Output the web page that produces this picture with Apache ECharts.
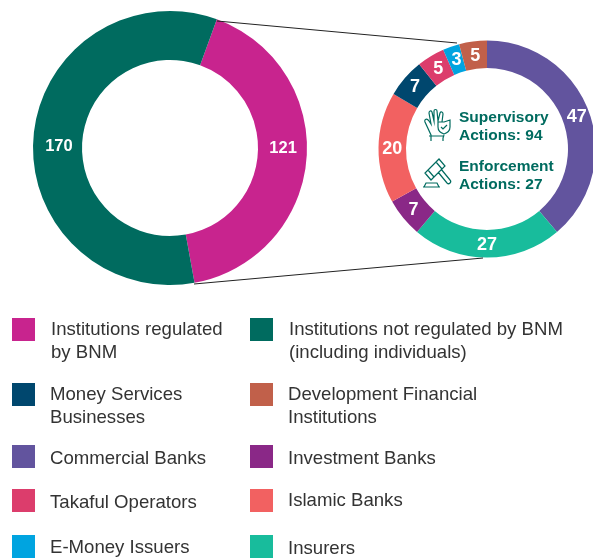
<!DOCTYPE html>
<html><head><meta charset="utf-8">
<style>html,body{margin:0;padding:0;background:#fff}#c{width:593px;height:558px}</style>
<script src="https://cdn.jsdelivr.net/npm/echarts@6/dist/echarts.min.js"></script></head>
<body><div id="c"></div>
<script>
const outerNames = ['Institutions regulated by BNM','Institutions not regulated by BNM (including individuals)'];
const outerValues = [121,170];
const outerColors = ['#C8248E','#006B5F'];
const innerNames = ['Commercial Banks','Insurers','Investment Banks','Islamic Banks','Money Services Businesses','Takaful Operators','E-Money Issuers','Development Financial Institutions'];
const innerValues = [47,27,7,20,7,5,3,5];
const innerColors = ['#62549E','#18BC9C','#8A2887','#F26161','#00476E','#DC3D6C','#00A4E0','#C1604A'];
const centerLines = ['Supervisory','Actions: 94','Enforcement','Actions: 27'];
const legendLayout = [
 ['Institutions regulated by BNM',12,318,'Institutions regulated\nby BNM',11,0],
 ['Institutions not regulated by BNM (including individuals)',250,318,'Institutions not regulated by BNM\n(including individuals)',11,0],
 ['Money Services Businesses',12,383,'Money Services\nBusinesses',10,0],
 ['Development Financial Institutions',250,383,'Development Financial\nInstitutions',10,0],
 ['Commercial Banks',12,445,'Commercial Banks',10,2],
 ['Investment Banks',250,445,'Investment Banks',10,2],
 ['Takaful Operators',12,489,'Takaful Operators',10,2],
 ['Islamic Banks',250,489,'Islamic Banks',10,0],
 ['E-Money Issuers',12,535,'E-Money Issuers',10,1],
 ['Insurers',250,535,'Insurers',10,2]
];
const FONT='Liberation Sans';
const textMap={}; legendLayout.forEach(r=>textMap[r[0]]=r[3]);
const legends=legendLayout.map(r=>{
  const two=r[3].includes('\n');
  const nudge=r[5];
  const base={fontFamily:FONT,fontSize:18.6,lineHeight:23,color:'#333'};
  return {data:[r[0]],left:r[1],top:two?r[2]-23:r[2],itemWidth:23,itemHeight:23,icon:'rect',orient:'horizontal',padding:0,selectedMode:false,
    formatter:n=>nudge?'{a|'+textMap[n]+'}':(two?'\n':'')+textMap[n],
    textStyle:{...base,padding:[0,0,0,r[4]],rich:{a:{...base,padding:[nudge*2,0,0,0]}}}};
});
const outerNudge=[[-2,-9],[4,8]];
const innerNudge=[[-2,2],[0,-2],[2,-1],[3,1],[2,2],[2,4],[2,3],[1,4]];
const lbl={show:true,position:'inside',formatter:'{c}',color:'#fff',fontFamily:FONT,fontWeight:'bold',fontSize:16.5};
echarts.graphic.registerShape('handIcon',echarts.graphic.extendPath('M431 141V135L425 122C424 119 427 118 429 121L431 124L429 113C429 111 431 110 432 112L434 121L434 111C434 109 437 109 437 111L438 121L440 113C441 111 443 112 443 114L442 122 M444 122L450 120V127C450 131 447 133 444 134C441 133 438 131 438 127V122Z M441 127L443 129L447 125 M444 135L443 138V141 M429 136H443',{}));
echarts.graphic.registerShape('gavelIcon',echarts.graphic.extendPath('M425 173L431 180L445 166L439 159Z M428 170L434 177 M436 162L442 169 M438 172L447 183C449 185 452 182 450 180L441 169 M423 187H440 M424 187L426 183H437L439 187',{}));
const chart=echarts.init(document.getElementById('c'),null,{renderer:'canvas'});
const iconStyle={stroke:'#006B5F',fill:'none',lineWidth:1.2};
const txt=(s,y)=>({type:'text',left:459,top:y-7,z:10,style:{text:s,fill:'#006B5F',fontFamily:FONT,fontWeight:'bold',fontSize:15.5}});
chart.setOption({
 animation:false,
 legend:legends,
 series:[
  {type:'pie',name:'outer',center:[170,148],radius:[88,137],startAngle:70,clockwise:true,silent:true,
   label:lbl,labelLine:{show:false},
   data:outerNames.map((n,i)=>({name:n,value:outerValues[i],itemStyle:{color:outerColors[i]},
     label:{offset:outerNudge[i]}}))},
  {type:'pie',name:'inner',center:[487,149],radius:[81,108.5],startAngle:90,clockwise:true,silent:true,
   label:{...lbl,fontSize:18},labelLine:{show:false},
   data:innerNames.map((n,i)=>({name:n,value:innerValues[i],itemStyle:{color:innerColors[i]},
     label:{offset:innerNudge[i]}}))}
 ],
 graphic:[
  {type:'line',z:5,shape:{x1:217,y1:21,x2:457,y2:43},style:{stroke:'#222',lineWidth:1}},
  {type:'line',z:5,shape:{x1:194,y1:284,x2:483,y2:258},style:{stroke:'#222',lineWidth:1}},
  txt(centerLines[0],117),txt(centerLines[1],135),txt(centerLines[2],166),txt(centerLines[3],184),
  {type:'handIcon',z:10,style:iconStyle},
  {type:'gavelIcon',z:10,style:iconStyle}
 ]
});
</script></body></html>
